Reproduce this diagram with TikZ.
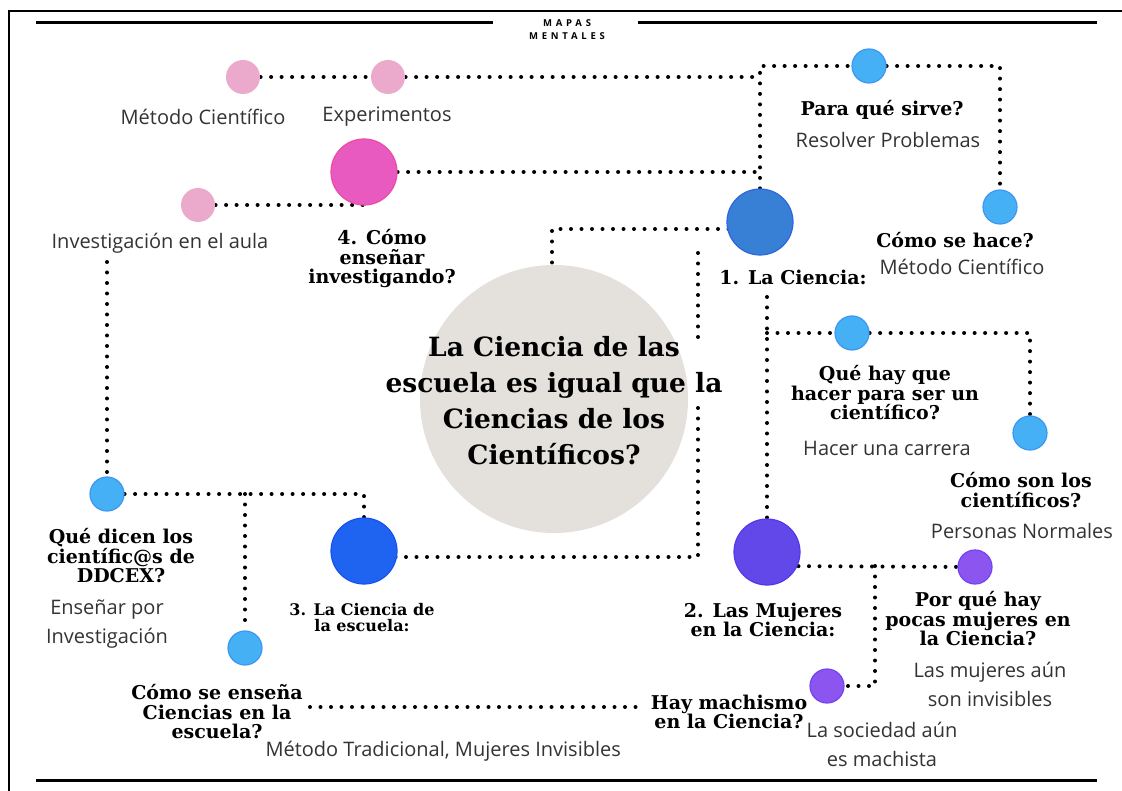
\documentclass[tikz,border=0pt]{standalone}
\usepackage{fontspec}
\setmainfont{Open Sans}
\newfontfamily\headfont{DejaVu Serif}
\newfontfamily\capsfont{Open Sans}[LetterSpace=40]
\usepackage{tikz}
\usetikzlibrary{backgrounds}

\definecolor{rosa}{HTML}{EBAACB}
\definecolor{magen}{HTML}{E85AC0}
\definecolor{celeste}{HTML}{46B0F5}
\definecolor{azul}{HTML}{3880D6}
\definecolor{azulfuerte}{HTML}{1E64F0}
\definecolor{indigo}{HTML}{6248E8}
\definecolor{lila}{HTML}{8C55F0}
\definecolor{gris}{HTML}{E4E1DC}
\definecolor{gristx}{HTML}{333333}

\tikzset{
  punteado/.style={line width=4pt, line cap=round, dash pattern=on 0pt off 10.5pt},
  bola/.style={circle, inner sep=0pt, minimum size=34pt, line width=1.2pt},
  bolagr/.style={bola, minimum size=66pt},
  tit/.style={align=center, text=black, font=\headfont\bfseries\fontsize{19}{19.5}\selectfont},
  txt/.style={align=center, text=gristx, font=\fontsize{20}{29}\selectfont},
}

\begin{document}
\begin{tikzpicture}[x=1pt, y=-1pt]
  \useasboundingbox (0,0) rectangle (1122,791);

  % marco
  \draw[line width=1.3pt] (1122,11) -- (9,11) -- (9,791);
  \draw[line width=3pt] (36,23) -- (493,23);
  \draw[line width=3pt] (638,23) -- (1097,23);
  \draw[line width=3pt] (36,780) -- (1097,780);
  \node[align=center, font=\capsfont\bfseries\fontsize{9.5}{13}\selectfont] (cab) at (567,29.5) {MAPAS\\MENTALES};

  % centro
  \node[circle, fill=gris, inner sep=0pt, minimum size=268pt] (main) at (554,399) {};
  \node[align=center, font=\headfont\bfseries\fontsize{26.5}{36}\selectfont] (maintxt) at (554,401)
    {La Ciencia de las\\escuela es igual que la\\Ciencias de los\\Científicos?};

  % bolas
  \node[bola, fill=rosa] (met) at (243,77) {};
  \node[bola, fill=rosa] (exp) at (388,77) {};
  \node[bola, fill=rosa] (inv) at (198,205) {};
  \node[bolagr, fill=magen, draw=magen!85!red] (ens) at (364,172) {};
  \node[bola, fill=celeste, draw=celeste!85!blue] (para) at (869,66) {};
  \node[bola, fill=celeste, draw=celeste!85!blue] (hace) at (1000,207) {};
  \node[bolagr, fill=azul, draw=azul!80!blue] (cien) at (760,222) {};
  \node[bola, fill=celeste, draw=celeste!85!blue] (qh) at (852,333) {};
  \node[bola, fill=celeste, draw=celeste!85!blue] (cs) at (1030,433) {};
  \node[bolagr, fill=indigo, draw=indigo!80!blue] (muj) at (767,552) {};
  \node[bola, fill=lila, draw=lila!80!blue] (pq) at (975,567) {};
  \node[bola, fill=lila, draw=lila!80!blue] (hm) at (827,686) {};
  \node[bolagr, fill=azulfuerte, draw=azulfuerte!80!blue] (esc) at (364,551) {};
  \node[bola, fill=celeste, draw=celeste!85!blue] (qd) at (107,494) {};
  \node[bola, fill=celeste, draw=celeste!85!blue] (como) at (245,648) {};

  % textos
  \node[txt] (mettxt) at (203,117) {Método Científico};
  \node[txt] (exptxt) at (387,117) {Experimentos};
  \node[txt] (invtxt) at (160,243) {Investigación en el aula};
  \node[tit] (enstxt) at (382,259) {4. Cómo\\enseñar\\investigando?};
  \node[tit] (paratxt) at (882,110) {Para qué sirve?};
  \node[txt] (resol) at (888,140) {Resolver Problemas};
  \node[tit] (hacetxt) at (955,240) {Cómo se hace?};
  \node[txt] (met2) at (962,267) {Método Científico};
  \node[tit] (cientxt) at (793,277) {1. La Ciencia:};
  \node[tit] (qhtxt) at (885,393) {Qué hay que\\hacer para ser un\\científico?};
  \node[txt] (carrera) at (887,448) {Hacer una carrera};
  \node[tit] (cstxt) at (1021,490) {Cómo son los\\científicos?};
  \node[txt] (normales) at (1022,531) {Personas Normales};
  \node[tit] (mujtxt) at (763,620) {2. Las Mujeres\\en la Ciencia:};
  \node[tit] (pqtxt) at (978,619) {Por qué hay\\pocas mujeres en\\la Ciencia?};
  \node[txt] (invis) at (990,684) {Las mujeres aún\\son invisibles};
  \node[tit] (hmtxt) at (729,712) {Hay machismo\\en la Ciencia?};
  \node[txt] (soc) at (882,744) {La sociedad aún\\es machista};
  \node[tit] (qdtxt) at (121,556) {Qué dicen los\\científic@s de\\DDCEX?};
  \node[txt] (enspor) at (107,624) {Enseñar por\\Investigación};
  \node[tit, font=\headfont\bfseries\fontsize{16}{16}\selectfont] (esctxt) at (362,618) {3. La Ciencia de\\la escuela:};
  \node[tit] (comotxt) at (217,712) {Cómo se enseña\\Ciencias en la\\escuela?};
  \node[txt, anchor=west] (trad) at (262,751) {Método Tradicional, Mujeres Invisibles};

  % puntos de paso
  \coordinate (k1) at (552,229);
  \coordinate (k2) at (698,253);
  \coordinate (k3) at (698,343);
  \coordinate (k4) at (698,557);
  \coordinate (k5) at (698,405);
  \coordinate (k6) at (767,297);
  \coordinate (k7) at (767,333);
  \coordinate (k8) at (875,566);
  \coordinate (k9) at (107,262);
  \coordinate (k10) at (310,707);
  \coordinate (k11) at (637,707);

  \begin{pgfonlayer}{background}
    \draw[punteado] (met) -- (exp); % met-exp
    \draw[punteado] (exp) -- (exp -| cien); % exp-cien
    \draw[punteado] (ens) -- (ens -| cien); % ens-cien
    \draw[punteado] (inv) -- (inv -| ens); % inv-ens
    \draw[punteado] (cien) |- (para); % cien-para
    \draw[punteado] (para) -| (hace); % para-hace
    \draw[punteado] (k1 -| cien) -- (k1) -- (k1 |- main.north); % cien-main
    \draw[punteado] (k2) -- (k3);
    \draw[punteado] (k4 -| esc) -- (k4) -- (k5); % esc-main
    \draw[punteado] (k6) -- (muj); % cien-muj
    \draw[punteado] (k7) -- (qh) -| (cs); % qh-cs
    \draw[punteado] (k8 -| muj) -- (pq); % muj-pq
    \draw[punteado] (k8) |- (hm); % muj-hm
    \draw[punteado] (qd) -| (esc); % qd-esc
    \draw[punteado] (qd -| como) -- (como); % qd-como
    \draw[punteado] (k9) -- (qd); % inv-qd
    \draw[punteado] (k10) -- (k11); % como-hm
  \end{pgfonlayer}

\end{tikzpicture}
\end{document}
